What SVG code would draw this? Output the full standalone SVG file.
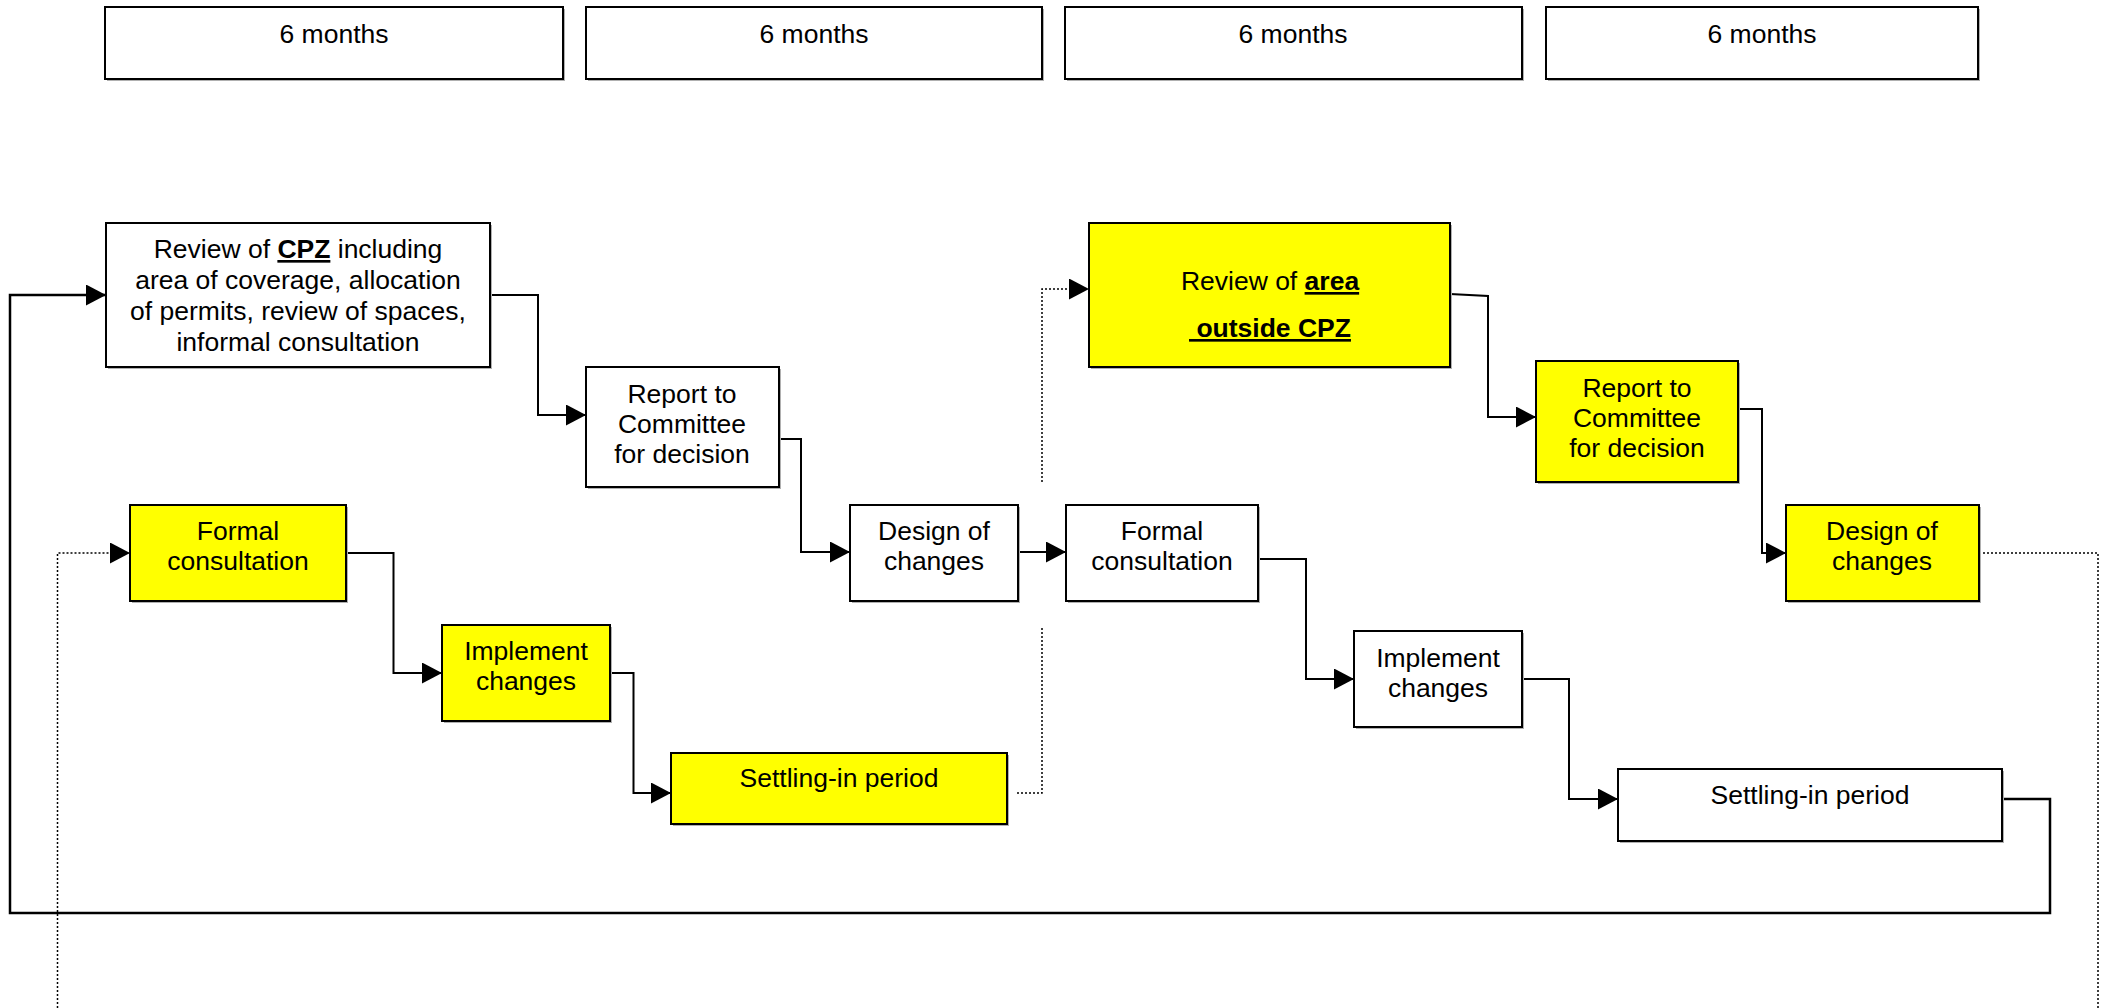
<svg xmlns="http://www.w3.org/2000/svg" width="2105" height="1008" viewBox="0 0 2105 1008">
<style>
  .box { stroke: #000; stroke-width: 2; }
  .w { fill: #fff; }
  .y { fill: #ffff00; }
  .sh { fill: #b0b0b0; }
  text { font-family: "Liberation Sans", Arial, sans-serif; font-size: 26.5px; fill: #000; text-anchor: middle; }
  .b { font-weight: bold; text-decoration: underline; }
  .ln { fill: none; stroke: #000; stroke-width: 2; }
  .dot { fill: none; stroke: #000; stroke-width: 1.5; stroke-dasharray: 2 2; }
</style>
<defs>
  <marker id="arr" markerWidth="20" markerHeight="21" refX="20" refY="10.5" orient="auto" markerUnits="userSpaceOnUse">
    <path d="M0,0 L20,10.5 L0,21 Z" fill="#000"/>
  </marker>
</defs>
<rect width="2105" height="1008" fill="#fff"/>

<g id="timeline">
  <g id="t1"><rect class="sh" x="107" y="9" width="458" height="72"/><rect class="box w" x="105" y="7" width="458" height="72"/><text x="334" y="43">6 months</text></g>
  <g id="t2"><rect class="sh" x="588" y="9" width="456" height="72"/><rect class="box w" x="586" y="7" width="456" height="72"/><text x="814" y="43">6 months</text></g>
  <g id="t3"><rect class="sh" x="1067" y="9" width="457" height="72"/><rect class="box w" x="1065" y="7" width="457" height="72"/><text x="1293" y="43">6 months</text></g>
  <g id="t4"><rect class="sh" x="1548" y="9" width="432" height="72"/><rect class="box w" x="1546" y="7" width="432" height="72"/><text x="1762" y="43">6 months</text></g>
</g>

<g id="connectors">
  <path class="ln" d="M490,295 H538 V415 H586" marker-end="url(#arr)"/>
  <path class="ln" d="M779,439 H801 V552 H850" marker-end="url(#arr)"/>
  <path class="ln" d="M1018,552 H1066" marker-end="url(#arr)"/>
  <path class="ln" d="M1258,559 H1306 V679 H1354" marker-end="url(#arr)"/>
  <path class="ln" d="M1522,679 H1569 V799 H1618" marker-end="url(#arr)"/>
  <path class="ln" d="M2002,799 H2050 V913 H10 V295 H106" marker-end="url(#arr)" style="stroke-width:2.5"/>
  <path class="ln" d="M346,553 H393.5 V673 H442" marker-end="url(#arr)"/>
  <path class="ln" d="M610,673 H633.5 V793 H671" marker-end="url(#arr)"/>
  <path class="ln" d="M1450,294 L1488,296 V417 H1536" marker-end="url(#arr)"/>
  <path class="ln" d="M1738,409 H1762 V553 H1786" marker-end="url(#arr)"/>
  <path class="dot" d="M1017,793 H1042 V628"/>
  <path class="dot" d="M1042,482 V289 H1089" marker-end="url(#arr)"/>
  <path class="dot" d="M57.5,1008 V553 H130" marker-end="url(#arr)"/>
  <path class="dot" d="M1979,553 H2098 V1008"/>
</g>

<g id="review-cpz">
  <rect class="sh" x="108" y="225" width="384" height="144"/>
  <rect class="box w" x="106" y="223" width="384" height="144"/>
  <text x="298" y="258">Review of <tspan class="b">CPZ</tspan> including</text>
  <text x="298" y="289">area of coverage, allocation</text>
  <text x="298" y="320">of permits, review of spaces,</text>
  <text x="298" y="351">informal consultation</text>
</g>

<g id="report-1">
  <rect class="sh" x="588" y="369" width="193" height="120"/>
  <rect class="box w" x="586" y="367" width="193" height="120"/>
  <text x="682" y="403">Report to</text>
  <text x="682" y="433">Committee</text>
  <text x="682" y="463">for decision</text>
</g>

<g id="design-1">
  <rect class="sh" x="852" y="507" width="168" height="96"/>
  <rect class="box w" x="850" y="505" width="168" height="96"/>
  <text x="934" y="540">Design of</text>
  <text x="934" y="570">changes</text>
</g>

<g id="formal-1">
  <rect class="sh" x="1068" y="507" width="192" height="96"/>
  <rect class="box w" x="1066" y="505" width="192" height="96"/>
  <text x="1162" y="540">Formal</text>
  <text x="1162" y="570">consultation</text>
</g>

<g id="implement-1">
  <rect class="sh" x="1356" y="633" width="168" height="96"/>
  <rect class="box w" x="1354" y="631" width="168" height="96"/>
  <text x="1438" y="667">Implement</text>
  <text x="1438" y="697">changes</text>
</g>

<g id="settling-1">
  <rect class="sh" x="1620" y="771" width="384" height="72"/>
  <rect class="box w" x="1618" y="769" width="384" height="72"/>
  <text x="1810" y="804">Settling-in period</text>
</g>

<g id="review-outside">
  <rect class="sh" x="1091" y="225" width="361" height="144"/>
  <rect class="box y" x="1089" y="223" width="361" height="144"/>
  <text x="1270" y="290">Review of <tspan class="b">area</tspan></text>
  <text x="1270" y="337" class="b" style="white-space:pre" xml:space="preserve"> outside CPZ</text>
</g>

<g id="report-2">
  <rect class="sh" x="1538" y="363" width="202" height="121"/>
  <rect class="box y" x="1536" y="361" width="202" height="121"/>
  <text x="1637" y="397">Report to</text>
  <text x="1637" y="427">Committee</text>
  <text x="1637" y="457">for decision</text>
</g>

<g id="design-2">
  <rect class="sh" x="1788" y="507" width="193" height="96"/>
  <rect class="box y" x="1786" y="505" width="193" height="96"/>
  <text x="1882" y="540">Design of</text>
  <text x="1882" y="570">changes</text>
</g>

<g id="formal-2">
  <rect class="sh" x="132" y="507" width="216" height="96"/>
  <rect class="box y" x="130" y="505" width="216" height="96"/>
  <text x="238" y="540">Formal</text>
  <text x="238" y="570">consultation</text>
</g>

<g id="implement-2">
  <rect class="sh" x="444" y="627" width="168" height="96"/>
  <rect class="box y" x="442" y="625" width="168" height="96"/>
  <text x="526" y="660">Implement</text>
  <text x="526" y="690">changes</text>
</g>

<g id="settling-2">
  <rect class="sh" x="673" y="755" width="336" height="71"/>
  <rect class="box y" x="671" y="753" width="336" height="71"/>
  <text x="839" y="787">Settling-in period</text>
</g>
</svg>
